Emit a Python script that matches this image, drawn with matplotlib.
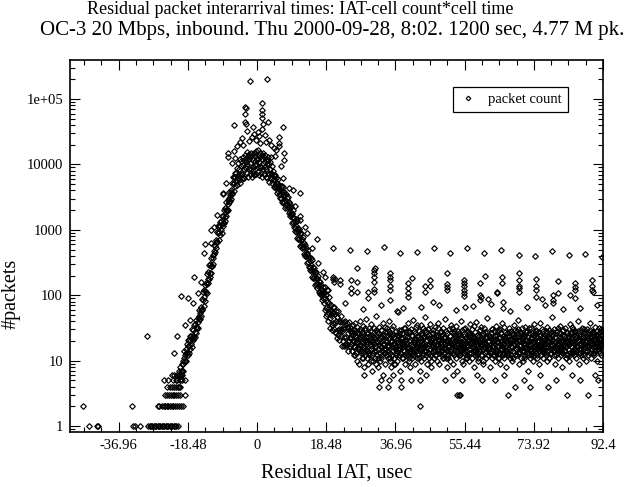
import numpy as np
import matplotlib
matplotlib.use("Agg")
from matplotlib import pyplot as plt
from matplotlib.ticker import FixedLocator, MultipleLocator, LogLocator, NullFormatter

plt.rcParams['font.family'] = ['Liberation Serif', 'DejaVu Serif']

# histogram bins, 0.1 usec wide
bin_width = 0.1

rise_start = -21.0
rise_counts = [
    6, 4, 7, 6, 5, 8, 7, 6, 9, 7,
    7, 10, 9, 7, 11, 14, 10, 12, 10, 15,
    13, 10, 13, 18, 12, 17, 21, 13, 17, 21,
    15, 20, 24, 18, 24, 16, 22, 30, 21, 24,
    29, 22, 35, 27, 23, 36, 33, 26, 42, 32,
    31, 45, 39, 31, 48, 59, 43, 54, 43, 66,
    59, 48, 59, 87, 61, 85, 111, 69, 94, 120,
    82, 118, 144, 111, 156, 107, 151, 211, 153, 177,
    230, 179, 286, 219, 189, 305, 279, 222, 365, 275,
    278, 415, 365, 296, 470, 585, 432, 556, 451, 696,
    662, 528, 644, 941, 655, 891, 1148, 698, 940, 1170,
    820, 1139, 1338, 995, 1351, 901, 1225, 1645, 1153, 1292,
    1622, 1258, 2028, 1558, 1342, 2172, 1995, 1600, 2625, 1980,
    1971, 2867, 2470, 1976, 3058, 3731, 2709, 3413, 2722, 4106,
    3728, 2976, 3588, 5235, 3647, 4950, 6372, 3861, 5190, 6528,
    4608, 6358, 7438, 5508, 7434, 4925, 6670, 8918, 6213, 6907,
]

peak_start = -5.0
peak_counts = [
    10400, 5760, 8400, 12000, 6800, 5200, 9600, 11200, 7200, 6000,
    7200, 13050, 6120, 9900, 11700, 8550, 6300, 13950, 9000, 10800,
    11270, 8820, 15680, 7350, 10290, 13230, 6470, 12250, 8620, 14210,
    13000, 7200, 10500, 15000, 8500, 6500, 12000, 14000, 9000, 7500,
    8240, 14940, 7000, 11330, 13390, 9790, 7210, 15970, 10300, 12360,
    11850, 9270, 16480, 7730, 10820, 13900, 6800, 12880, 9060, 14940,
    7500, 9000, 14000, 12000, 6500, 8500, 15000, 10500, 7200, 13000,
    10900, 9100, 14100, 6370, 8650, 11830, 10010, 6190, 13200, 7280,
    11750, 7130, 10130, 5350, 10940, 8510, 6080, 12960, 7290, 9320,
]

fall_start = 4.0
fall_counts = [
    7245, 5262, 7904, 5681, 4579, 6924, 5954, 4456, 6838, 4833,
    4620, 6222, 4960, 3663, 5242, 5915, 3978, 4633, 3419, 4779,
    4179, 3112, 3496, 4749, 3077, 3894, 4671, 2636, 3300, 3876,
    2591, 3410, 3800, 2682, 3446, 2174, 2800, 3562, 2367, 2499,
    3025, 2159, 3185, 2252, 1786, 2652, 2237, 1648, 2488, 1728,
    1672, 2220, 1740, 1269, 1792, 1989, 1314, 1512, 1099, 1522,
    1323, 976, 1076, 1446, 927, 1155, 1364, 757, 940, 1080,
    730, 946, 1038, 720, 909, 562, 710, 897, 581, 608,
    725, 519, 767, 542, 429, 636, 536, 392, 588, 410,
    396, 531, 420, 308, 437, 488, 324, 373, 271, 378,
    332, 244, 271, 365, 234, 292, 344, 191, 235, 274,
    184, 238, 261, 182, 230, 143, 181, 228, 149, 155,
    182, 131, 195, 139, 111, 166, 141, 104, 159, 111,
    106, 143, 113, 84, 119, 134, 90, 105, 77, 107,
    134, 60, 91, 48, 100, 63, 121, 52, 79, 61,
    41, 76, 54, 93, 45, 57, 31, 71, 50, 35,
    53, 29, 67, 38, 53, 30, 65, 37, 27, 51,
    57, 26, 40, 22, 46, 29, 58, 25, 40, 30,
    21, 39, 28, 48, 24, 30, 17, 39, 28, 20,
    31, 17, 39, 23, 31, 18, 40, 23, 17, 33,
    38, 18, 26, 14, 31, 20, 39, 17, 28, 22,
]

tail_start = 25.0
tail_counts = [
    22, 31, 18, 27, 14, 35, 20, 25, 12, 29,
    17, 24, 38, 13, 21, 28, 10, 19, 33, 16,
    26, 15, 22, 9, 30, 18, 41, 14, 23, 11,
    19, 27, 13, 34, 16, 8, 24, 20, 29, 12,
    15, 23, 44, 11, 18, 26, 14, 9, 21, 32,
    13, 20, 28, 10, 17, 36, 12, 25, 7, 19,
    24, 14, 18, 31, 11, 22, 16, 48, 9, 27,
    12, 19, 26, 15, 8, 21, 33, 13, 17, 10,
    29, 16, 11, 23, 14, 38, 18, 6, 25, 13,
    18, 9, 27, 15, 21, 12, 31, 17, 24, 11,
    14, 22, 17, 40, 10, 26, 13, 19, 8, 30,
    20, 12, 25, 16, 34, 11, 18, 23, 15, 9,
    13, 28, 17, 10, 21, 14, 55, 19, 12, 24,
    26, 15, 7, 20, 13, 29, 16, 11, 22, 18,
    11, 19, 32, 14, 24, 9, 17, 27, 13, 21,
    16, 23, 12, 37, 15, 10, 20, 28, 14, 8,
    30, 13, 18, 11, 25, 17, 42, 12, 19, 15,
    14, 21, 9, 26, 16, 33, 11, 18, 24, 13,
    19, 12, 28, 15, 7, 22, 17, 35, 10, 20,
    25, 16, 13, 31, 18, 11, 23, 14, 47, 17,
    12, 27, 20, 9, 16, 24, 13, 30, 18, 11,
    22, 15, 36, 12, 19, 8, 26, 16, 21, 14,
    17, 29, 11, 23, 14, 20, 33, 12, 18, 25,
    10, 18, 24, 15, 38, 13, 21, 9, 27, 16,
    28, 14, 19, 12, 25, 17, 11, 31, 15, 22,
    13, 23, 16, 44, 11, 20, 26, 14, 8, 19,
    21, 12, 30, 17, 14, 24, 10, 18, 35, 15,
    16, 27, 13, 22, 9, 19, 28, 12, 17, 24,
    11, 20, 34, 14, 18, 7, 25, 16, 21, 13,
    26, 15, 19, 12, 40, 17, 23, 10, 29, 14,
    18, 9, 24, 16, 13, 31, 20, 11, 22, 17,
    14, 28, 12, 21, 17, 10, 26, 15, 36, 19,
    23, 13, 18, 30, 11, 16, 24, 14, 20, 8,
    15, 21, 27, 12, 19, 39, 13, 17, 25, 11,
    20, 10, 16, 24, 14, 29, 18, 12, 22, 33,
    12, 19, 25, 15, 9, 21, 16, 31, 13, 18,
    27, 14, 11, 23, 17, 45, 12, 20, 15, 24,
    16, 22, 13, 8, 26, 18, 14, 30, 11, 19,
    21, 12, 28, 16, 20, 10, 24, 15, 34, 13,
    14, 25, 17, 11, 19, 29, 13, 22, 9, 18,
    30, 15, 20, 13, 37, 17, 12, 24, 16, 21,
    11, 23, 16, 27, 14, 19, 8, 26, 13, 18,
    19, 13, 24, 15, 32, 11, 21, 17, 28, 12,
    16, 26, 10, 20, 14, 23, 18, 35, 12, 22,
    24, 15, 19, 12, 28, 16, 42, 13, 21, 9,
    13, 20, 27, 17, 11, 25, 15, 19, 31, 14,
    22, 10, 18, 24, 14, 33, 12, 20, 16, 27,
    15, 28, 13, 19, 7, 23, 17, 26, 11, 18,
    20, 14, 31, 12, 22, 16, 25, 10, 19, 36,
    12, 21, 17, 26, 13, 18, 29, 15, 23, 11,
    27, 16, 9, 20, 14, 24, 18, 38, 12, 17,
    14, 23, 19, 11, 28, 15, 21, 13, 25, 16,
    18, 12, 26, 16, 33, 10, 20, 24, 14, 29,
    11, 19, 15, 22, 17, 27, 13, 47, 18, 21,
    25, 14, 20, 12, 30, 16, 9, 23, 15, 19,
    16, 28, 13, 21, 18, 11, 26, 14, 34, 17,
    22, 12, 19, 15, 25, 8, 20, 29, 13, 18,
    14, 24, 17, 31, 11, 21, 16, 19, 27, 12,
    19, 15, 23, 10, 18, 26, 13, 36, 17, 22,
    13, 27, 16, 20, 14, 30, 12, 18, 24, 15,
    28, 17, 11, 22, 19, 14, 40, 16, 21, 9,
    15, 20, 25, 13, 29, 18, 12, 23, 17, 32,
    21, 11, 18, 26, 15, 20, 14, 27, 10, 19,
    17, 30, 14, 22, 12, 24, 19, 16, 38, 13,
    23, 15, 20, 11, 27, 18, 13, 25, 16, 21,
    12, 26, 17, 33, 14, 19, 22, 10, 28, 18,
    20, 15, 24, 16, 31, 13, 21, 27, 12, 18,
    25, 17, 29, 14, 22,
]

# second sampling of the tail (bins in between, 0.2 usec apart)
tail_b_start = 25.05
tail_b_step = 0.2
tail_b_counts = [
    18, 25, 14, 21, 30, 16, 12, 23, 19, 27,
    15, 20, 28, 13, 17, 24, 11, 22, 16, 31,
    21, 14, 19, 26, 12, 18, 25, 15, 20, 10,
    13, 23, 17, 29, 14, 20, 11, 26, 18, 22,
    24, 12, 16, 21, 15, 33, 13, 19, 27, 14,
    17, 28, 11, 20, 24, 14, 18, 9, 23, 16,
    12, 19, 25, 15, 29, 17, 13, 22, 18, 26,
    20, 14, 31, 12, 18, 23, 16, 27, 11, 21,
    15, 24, 17, 13, 28, 19, 22, 14, 35, 16,
    23, 11, 20, 26, 15, 18, 12, 24, 17, 29,
    14, 21, 16, 30, 13, 25, 19, 10, 22, 18,
    26, 15, 12, 19, 24, 17, 32, 14, 20, 13,
    18, 27, 21, 11, 16, 23, 15, 28, 12, 20,
    11, 17, 24, 19, 14, 31, 18, 13, 26, 22,
    21, 16, 13, 28, 20, 12, 25, 17, 15, 19,
    16, 30, 18, 14, 23, 11, 21, 27, 13, 24,
    25, 13, 19, 22, 16, 34, 14, 20, 18, 12,
    13, 24, 15, 29, 17, 21, 10, 26, 19, 16,
    22, 18, 27, 12, 20, 15, 24, 13, 30, 17,
    17, 12, 21, 25, 14, 19, 28, 16, 11, 23,
    26, 20, 15, 18, 33, 13, 22, 17, 24, 14,
    12, 27, 19, 14, 21, 16, 25, 11, 18, 29,
    19, 15, 23, 30, 13, 20, 17, 26, 14, 22,
    24, 11, 18, 16, 27, 21, 12, 19, 32, 15,
    15, 22, 26, 13, 19, 24, 16, 28, 12, 20,
    21, 17, 12, 25, 15, 30, 18, 14, 23, 19,
    13, 28, 20, 16, 22, 11, 26, 17, 21, 15,
    27, 14, 19, 23, 12, 18, 31, 15, 24, 16,
    16, 21, 13, 29, 17, 25, 14, 20, 11, 26,
    22, 18, 24, 12, 20, 16, 33, 13, 19, 27,
    14, 25, 17, 21, 28, 13, 18, 24, 15, 20,
    23, 12, 30, 16, 19, 26, 14, 22, 17, 29,
    18, 24, 15, 20, 27, 13, 21, 16, 25, 19,
    17, 26, 14, 22, 30, 18, 20,
]

# sparse bins on the far left (counts of 1..6)
low_x = [-44.9, -42.9, -42.6, -33.2, -32.6, -31.3,
         -29.1, -28.7, -28.4, -28.0, -27.6, -27.3, -26.9, -26.6, -26.2, -25.9, -25.5, -25.1,
         -24.8, -24.4, -24.1, -23.7, -23.4, -23.0, -22.7, -22.3, -22.0, -21.6, -21.2,
         -46.4, -33.5, -26.5, -26.1, -25.4, -25.0, -24.6, -24.1, -23.7, -23.2, -22.8,
         -22.4, -21.9, -21.5, -21.0, -20.4, -19.9,
         -24.6, -24.0, -23.5, -23.0, -22.6, -22.1, -21.6, -21.1, -20.5, -19.3,
         -24.0, -23.4, -22.8, -22.3, -21.7, -21.2, -20.5,
         -25.0, -23.9, -22.4, -21.8, -21.3, -20.7, -20.1, -19.4,
         -22.8, -22.2, -21.5, -20.9, -20.2]
low_y = [1, 1, 1, 1, 1, 1,
         1, 1, 1, 1, 1, 1, 1, 1, 1, 1, 1, 1,
         1, 1, 1, 1, 1, 1, 1, 1, 1, 1, 1,
         2, 2, 2, 2, 2, 2, 2, 2, 2, 2, 2,
         2, 2, 2, 2, 2, 2,
         3, 3, 3, 3, 3, 3, 3, 3, 3, 3,
         4, 4, 4, 4, 4, 4, 4,
         5, 5, 5, 5, 5, 5, 5, 5,
         6, 6, 6, 6, 6]

# stray points above the main ridge
rise_out_x = [-29.3, -22.2, -21.4, -20.4, -18.4, -17.2, -16.8, -14.2, -13.9, -12.3,
              -12.3, -10.8, -9.1, -9.0, -19.2, -18.0, -15.8, -15.0, -11.5, -8.2]
rise_out_y = [24, 13, 24, 97, 90, 75, 190, 440, 600, 980,
              620, 1700, 3600, 3500, 35, 42, 110, 160, 1100, 5200]

peak_out_x = [-1.9, 2.6, -3.2, -3.1, -3.2, -3.2, -3.1, 1.4, 1.4, 1.4, 1.4, 2.8,
              1.25, -1.0, -6.3, -2.8, 7.0, -1.4, 3.2, 5.9, 5.9, 5.9, -7.7, -6.3,
              -7.7, 7.2, 7.2, 0.3, 1.6, -4.6, -0.4, 2.1, 4.4, -5.5, 0.8,
              -6.8, -4.1, -2.3, -0.8, 0.5, 2.4, 3.6, 5.1, -5.8, -3.7, 4.8, 6.3]
peak_out_y = [190000, 200000, 75000, 73000, 58000, 44000, 41000, 88000, 69000, 58000, 52000, 44000,
              35000, 38000, 40000, 32000, 37000, 26000, 24000, 26000, 21000, 19000, 15000, 16000,
              13000, 15000, 11500, 31000, 42000, 22000, 24000, 28000, 18000, 19000, 21000,
              10500, 25000, 23000, 29000, 27000, 22000, 19500, 16500, 12500, 20000, 13500, 9500]

fall_out_x = [7.0, 7.0, 9.7, 11.5, 11.5, 11.5, 13.3, 16.0, 16.3, 17.6, 18.2, 10.2,
              8.5, 12.8, 14.6, 19.0]
fall_out_y = [6100, 4500, 4000, 3600, 1650, 1400, 890, 720, 310, 225, 190, 2300,
              4400, 1100, 520, 120]

# periodic row of high counts in the tail
row_x = [20.4, 24.9, 29.4, 33.8, 38.3, 42.7, 47.2, 51.6, 56.2, 60.7, 65.2, 69.9,
         74.3, 78.8, 83.2, 87.7, 92.2]
row_y = [520, 490, 470, 540, 440, 460, 520, 440, 520, 440, 500, 410,
         400, 470, 410, 420, 380]

tail_hi_x = [20.4, 20.4, 20.6, 22.2, 20.9, 22.2, 25.1, 25.1, 25.2, 26.7, 26.8, 26.8,
             29.7, 29.7, 31.2, 31.2, 31.2, 31.2, 31.3, 31.3, 31.5,
             35.6, 35.6, 35.6, 35.6, 35.6, 35.6, 40.2, 40.2, 40.2, 40.2, 41.5,
             44.8, 44.8, 46.1, 46.1, 50.7, 50.7, 50.7, 50.7,
             55.2, 55.2, 55.2, 55.2, 55.2, 55.2, 55.5, 59.6, 59.6, 59.7, 59.6, 61.0,
             64.1, 64.1, 65.4, 65.4, 65.7, 65.8, 69.9, 69.9, 70.0, 69.9, 69.9,
             74.6, 74.6, 74.6, 74.4, 76.1, 79.0, 79.0, 79.1, 80.3, 80.3,
             85.0, 85.0, 85.0, 83.7, 85.0, 89.5, 89.5, 89.5, 89.6,
             23.5, 28.2, 33.0, 37.5, 43.9, 48.6, 53.0, 57.8, 62.4, 67.5, 72.2, 77.0,
             81.6, 86.3, 90.8, 46.9, 39.0, 61.8]
tail_hi_y = [190, 175, 160, 170, 180, 150, 170, 130, 110, 260, 160, 112,
             112, 90, 240, 215, 190, 160, 125, 112, 260,
             215, 190, 170, 140, 120, 84, 155, 130, 107, 95, 185,
             140, 112, 170, 140, 220, 150, 134, 120,
             173, 155, 140, 120, 107, 98, 65, 155, 100, 95, 84, 200,
             112, 107, 190, 155, 79, 63, 215, 170, 140, 127, 112,
             180, 137, 122, 95, 89, 100, 84, 75, 165, 108,
             155, 134, 120, 100, 90, 170, 140, 120, 112,
             75, 62, 70, 58, 66, 72, 60, 68, 74, 57, 66, 70,
             62, 64, 71, 80, 64, 88]

tail_low_x = [43.4, 53.5, 54.0, 54.3, 67.1, 82.9, 88.5, 69.0, 73.0, 77.7, 32.6, 35.0, 38.4,
              33.0, 35.3, 38.4, 41.0, 43.6, 50.3, 54.8, 60.2, 63.5, 71.4, 79.9, 86.2, 91.0,
              28.5, 36.2, 45.0, 52.4, 58.8, 66.0, 75.5, 84.0, 90.2]
tail_low_y = [2, 3, 3, 3, 3, 3, 3, 4, 4, 4, 4, 4, 4,
              5, 5, 5, 5, 5, 5, 5, 5, 5, 5, 5, 5, 5,
              6, 6, 6, 6, 6, 6, 6, 6, 6]

x_ticks = [-36.96, -18.48, 0, 18.48, 36.96, 55.44, 73.92, 92.4]
x_tick_labels = ["-36.96", "-18.48", "0", "18.48", "36.96", "55.44", "73.92", "92.4"]
y_ticks = [1, 10, 100, 1000, 10000, 100000]
y_tick_labels = ["1", "10", "100", "1000", "10000", "1e+05"]


def bins(start, counts, step=bin_width):
    return start + step * np.arange(len(counts))


xs = np.concatenate([
    bins(rise_start, rise_counts), bins(peak_start, peak_counts),
    bins(fall_start, fall_counts), bins(tail_start, tail_counts),
    bins(tail_b_start, tail_b_counts, tail_b_step),
    low_x, rise_out_x, peak_out_x, fall_out_x, row_x, tail_hi_x, tail_low_x,
])
ys = np.concatenate([
    rise_counts, peak_counts, fall_counts, tail_counts, tail_b_counts,
    low_y, rise_out_y, peak_out_y, fall_out_y, row_y, tail_hi_y, tail_low_y,
])

fig = plt.figure(figsize=(6.27, 4.87), dpi=100)
ax = fig.add_axes([0.1116, 0.1129, 0.8501, 0.7639])

ax.plot(xs, ys, linestyle='none', marker='D', ms=2.9, mfc='none', mec='black',
        mew=0.85, label='packet count')

ax.set_yscale('log')
ax.set_xlim(-50, 92.4)
ax.set_ylim(0.81, 3.95e5)

ax.xaxis.set_major_locator(FixedLocator(x_ticks))
ax.set_xticklabels(x_tick_labels)
ax.xaxis.set_minor_locator(MultipleLocator(4.62))
ax.yaxis.set_major_locator(FixedLocator(y_ticks))
ax.set_yticklabels(y_tick_labels)
ax.yaxis.set_minor_locator(LogLocator(base=10, subs=np.arange(2, 10)))
ax.yaxis.set_minor_formatter(NullFormatter())

ax.tick_params(which='both', direction='in', top=True, right=True, width=0.8,
               labelsize=10.5, colors='black')
ax.tick_params(which='major', length=7, pad=5)
ax.tick_params(which='minor', length=3.5)
for sp in ax.spines.values():
    sp.set_linewidth(1.2)

ax.set_xlabel("Residual IAT, usec", fontsize=14.5, labelpad=8)
ax.set_ylabel("#packets", fontsize=14.5)
ax.yaxis.set_label_coords(-0.092, 0.37)

fig.text(0.479, 1 - 10 / 487, "Residual packet interarrival times: IAT-cell count*cell time",
         ha='center', va='center', fontsize=13)
fig.text(0.53, 1 - 31 / 487, "OC-3 20 Mbps, inbound. Thu 2000-09-28, 8:02. 1200 sec, 4.77 M pk.",
         ha='center', va='center', fontsize=15)

leg = ax.legend(loc='upper right', bbox_to_anchor=(0.934, 0.927), borderaxespad=0,
                fontsize=10.5, fancybox=False, framealpha=1, edgecolor='black',
                handlelength=1.2, handletextpad=0.8, markerscale=0.8)
leg.get_frame().set_linewidth(0.9)

fig.savefig('out.png', dpi=100)
